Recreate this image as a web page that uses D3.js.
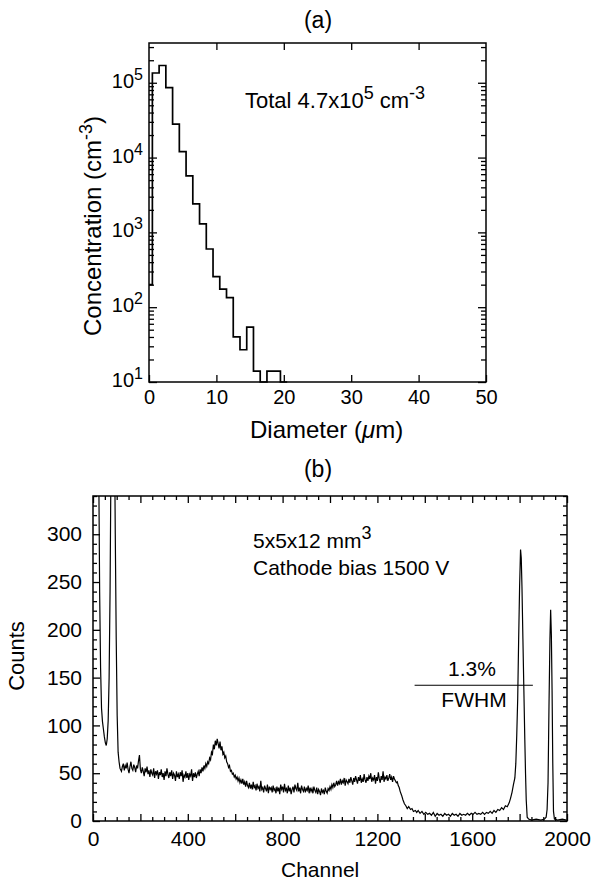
<!DOCTYPE html>
<html>
<head>
<meta charset="utf-8">
<script src="https://cdn.jsdelivr.net/npm/d3@7"></script>
<style>
  body { margin: 0; background: #fff; }
  svg text { font-family: "Liberation Sans", Arial, sans-serif; fill: #000; }
</style>
</head>
<body>
<script>
// (a) size distribution, 1 um bins centred on whole microns
var diameterBins = [0, 1, 2, 3, 4, 5, 6, 7, 8, 9, 10, 11, 12, 13, 14, 15, 16, 17, 18, 19, 20];
var concentration = [200, 135000, 170000, 86000, 28000, 12000, 5700, 2400, 1300, 600, 256, 174, 134, 40, 27, 54, 14, 0, 14, 14, 0];
var diameterTicks = [0, 10, 20, 30, 40, 50];
var decadeTicks = [1e1, 1e2, 1e3, 1e4, 1e5];

// (b) pulse height spectrum
// low channels: noise + first peaks (channel, counts)
var lowEnd = [
  [18, 700], [24, 380], [28, 240], [32, 160], [36, 118], [40, 104], [44, 96], [48, 88],
  [52, 82], [56, 79], [60, 86], [64, 105], [68, 150], [72, 240], [76, 380], [80, 520],
  [86, 560], [90, 430], [94, 300], [98, 190], [102, 110], [106, 72], [110, 62], [114, 55]
];
// compton band, every 4 channels from channel 120
var bandStart = 120;
var bandStep = 4;
var bandCounts = [
  52, 57, 60, 53, 58, 55, 61, 54, 50, 57, 62, 55, 53, 59, 56, 51, 58, 55, 63, 69,
  54, 50, 56, 52, 47, 55, 51, 57, 49, 53, 46, 54, 50, 48, 55, 45, 52, 49, 53, 44,
  51, 48, 54, 46, 50, 43, 52, 47, 55, 49, 45, 51, 47, 53, 44, 50, 48, 42, 52, 46,
  49, 44, 51, 47, 53, 41, 48, 46, 52, 45, 50, 43, 49, 47, 54, 42, 50, 46, 51, 45,
  49, 52, 47, 54, 50, 56, 52, 58, 55, 60, 57, 62, 60, 66, 64, 72, 70, 80, 75, 84,
  79, 86, 81, 76, 83, 74, 78, 70, 72, 66, 68, 62, 60, 56, 58, 52, 53, 49, 50, 46,
  48, 44, 46, 42, 45, 40, 43, 39, 44, 38, 41, 36, 42, 37, 35, 40, 34, 38, 33, 41,
  35, 37, 32, 39, 34, 36, 31, 42, 33, 35, 30, 37, 34, 31, 38, 29, 36, 33, 35, 30,
  37, 32, 34, 29, 36, 31, 35, 28, 38, 33, 36, 30, 39, 32, 34, 29, 37, 31, 35, 28,
  33, 36, 30, 38, 34, 32, 40, 31, 35, 29, 37, 33, 31, 36, 30, 34, 32, 37, 29, 35,
  31, 34, 29, 36, 32, 30, 35, 28, 33, 31, 27, 34, 30, 32, 28, 35, 31, 29, 34, 32,
  36, 33, 38, 35, 40, 36, 38, 42, 37, 41, 39, 44, 38, 42, 40, 45, 37, 43, 41, 39,
  44, 40, 46, 42, 38, 45, 41, 47, 43, 39, 46, 42, 48, 40, 44, 41, 49, 43, 40, 46,
  42, 47, 44, 50, 41, 45, 43, 48, 39, 46, 42, 51, 44, 40, 47, 43, 52, 41, 46, 44,
  48, 42, 45, 49, 43, 46, 41, 47, 44, 42, 40, 41, 37, 35, 31
];
// compton edge, valley and photopeaks (channel, counts)
var highEnd = [
  [1302, 27], [1308, 22], [1314, 18], [1320, 16], [1326, 13], [1332, 15], [1340, 12], [1346, 13],
  [1352, 10], [1360, 11], [1366, 9], [1372, 11], [1380, 8], [1388, 10], [1396, 7], [1404, 9],
  [1412, 7], [1420, 8], [1428, 6], [1436, 9], [1444, 5], [1452, 8], [1460, 6], [1468, 7],
  [1476, 5], [1484, 8], [1492, 6], [1500, 7], [1508, 5], [1516, 8], [1524, 6], [1532, 7],
  [1540, 5], [1548, 8], [1556, 6], [1564, 7], [1572, 6], [1580, 8], [1588, 6], [1596, 8],
  [1604, 7], [1612, 9], [1620, 7], [1628, 8], [1636, 7], [1644, 9], [1652, 7], [1660, 9],
  [1668, 8], [1676, 10], [1684, 8], [1692, 11], [1700, 9], [1708, 12], [1716, 11], [1724, 14],
  [1732, 12], [1740, 16], [1748, 15], [1756, 19], [1762, 24], [1768, 30], [1774, 38], [1780, 45],
  [1784, 60], [1788, 90], [1792, 128], [1796, 190], [1800, 245], [1804, 284], [1807, 275], [1810, 245],
  [1814, 190], [1818, 137], [1822, 85], [1825, 50], [1828, 22], [1832, 4], [1838, 2], [1850, 1],
  [1870, 2], [1890, 1], [1905, 2], [1912, 4], [1916, 12], [1920, 40], [1924, 120], [1928, 190],
  [1931, 221], [1934, 195], [1937, 137], [1940, 60], [1943, 10], [1947, 2], [1960, 1], [1980, 2],
  [1998, 1]
];
var countTicks = [0, 50, 100, 150, 200, 250, 300];
var channelTicks = [0, 400, 800, 1200, 1600, 2000];
var fwhmLevel = 142;
var fwhmSpan = [1357, 1856];

var svg = d3.select('body').append('svg')
  .attr('width', 599)
  .attr('height', 880);

var styleAxis = function(size) {
  return function(g) {
    g.select('.domain').remove();
    g.selectAll('line').attr('stroke', '#000').attr('stroke-width', 1.3);
    g.selectAll('text').attr('font-size', size).attr('font-family', '"Liberation Sans", Arial, sans-serif');
  };
};

// ---------- panel (a) ----------
var ax = d3.scaleLinear().domain([0, 50]).range([149, 486]);
var ay = d3.scaleLog().domain([10, 3.4e5]).range([382, 43]);

var pa = svg.append('g');

var histPts = diameterBins.map(function(c, i) {
  return [Math.max(0, c - 0.5), Math.max(10, concentration[i])];
});
histPts.push([diameterBins[diameterBins.length - 1] + 0.5, Math.max(10, concentration[concentration.length - 1])]);

pa.append('path')
  .datum(histPts)
  .attr('d', d3.line()
    .x(function(d) { return ax(d[0]); })
    .y(function(d) { return ay(d[1]); })
    .curve(d3.curveStepAfter))
  .attr('fill', 'none')
  .attr('stroke', '#000')
  .attr('stroke-width', 1.7);

var minorA = ay.ticks().filter(function(v) { return decadeTicks.indexOf(v) < 0; });

pa.append('g')
  .attr('transform', 'translate(0,' + ay.range()[0] + ')')
  .call(d3.axisBottom(ax).tickValues(diameterTicks).tickSize(-7).tickPadding(8))
  .call(styleAxis(20));
pa.append('g')
  .attr('transform', 'translate(0,' + ay.range()[1] + ')')
  .call(d3.axisTop(ax).tickValues(diameterTicks.slice(1, -1)).tickSize(-7).tickFormat(''))
  .call(styleAxis(20));
[ax.range()[0], ax.range()[1]].forEach(function(xp, k) {
  var mk = k === 0 ? d3.axisLeft : d3.axisRight;
  pa.append('g')
    .attr('transform', 'translate(' + xp + ',0)')
    .call(mk(ay).tickValues(decadeTicks).tickSize(-8).tickFormat(''))
    .call(styleAxis(20));
  pa.append('g')
    .attr('transform', 'translate(' + xp + ',0)')
    .call(mk(ay).tickValues(minorA).tickSize(-5).tickFormat(''))
    .call(styleAxis(20));
});

var decLabel = pa.selectAll('text.dec').data(decadeTicks).enter().append('text')
  .attr('class', 'dec')
  .attr('x', 143)
  .attr('y', function(d) { return ay(d) + 5; })
  .attr('text-anchor', 'end')
  .attr('font-size', 20);
decLabel.append('tspan').text('10');
decLabel.append('tspan')
  .attr('dy', -8)
  .attr('font-size', 16)
  .text(function(d) { return Math.round(Math.log10(d)); });

pa.append('rect')
  .attr('x', ax.range()[0]).attr('y', ay.range()[1])
  .attr('width', ax.range()[1] - ax.range()[0])
  .attr('height', ay.range()[0] - ay.range()[1])
  .attr('fill', 'none').attr('stroke', '#000').attr('stroke-width', 1.5);

pa.append('text').attr('x', 318).attr('y', 28).attr('text-anchor', 'middle').attr('font-size', 23).text('(a)');

var xa = pa.append('text').attr('x', 250).attr('y', 438).attr('font-size', 24);
xa.append('tspan').text('Diameter (');
xa.append('tspan').attr('font-style', 'italic').text('\u03bc');
xa.append('tspan').text('m)');

var ya = pa.append('text')
  .attr('transform', 'translate(101,226) rotate(-90)')
  .attr('text-anchor', 'middle')
  .attr('font-size', 24);
ya.append('tspan').text('Concentration (cm');
ya.append('tspan').attr('dy', -9).attr('font-size', 18).text('-3');
ya.append('tspan').attr('dy', 9).text(')');

var tot = pa.append('text').attr('x', 245).attr('y', 108).attr('font-size', 22);
tot.append('tspan').text('Total 4.7x10');
tot.append('tspan').attr('dy', -9).attr('font-size', 18).text('5');
tot.append('tspan').attr('dy', 9).text(' cm');
tot.append('tspan').attr('dy', -9).attr('font-size', 18).text('-3');

// ---------- panel (b) ----------
var bx = d3.scaleLinear().domain([0, 2000]).range([93, 567]);
var by = d3.scaleLinear().domain([0, 340]).range([821, 496]);

var pb = svg.append('g');

pb.append('clipPath').attr('id', 'clipb')
  .append('rect')
  .attr('x', bx.range()[0]).attr('y', by.range()[1])
  .attr('width', bx.range()[1] - bx.range()[0])
  .attr('height', by.range()[0] - by.range()[1]);

var spectrum = lowEnd
  .concat(bandCounts.map(function(c, i) { return [bandStart + i * bandStep, c]; }))
  .concat(highEnd);

pb.append('path')
  .datum(spectrum)
  .attr('clip-path', 'url(#clipb)')
  .attr('d', d3.line()
    .x(function(d) { return bx(d[0]); })
    .y(function(d) { return by(d[1]); }))
  .attr('fill', 'none')
  .attr('stroke', '#000')
  .attr('stroke-width', 1.2);

var chMajor = d3.range(0, 2001, 200);
var chMinor = d3.range(0, 2001, 50).filter(function(v) { return v % 200 !== 0; });
var ctMinor = d3.range(0, 341, 10).filter(function(v) { return v % 50 !== 0; });
var ctMajor = d3.range(0, 341, 50);

pb.append('g')
  .attr('transform', 'translate(0,' + by.range()[0] + ')')
  .call(d3.axisBottom(bx).tickValues(chMajor).tickSize(-7).tickPadding(10)
    .tickFormat(function(d) { return channelTicks.indexOf(d) >= 0 ? d : ''; }))
  .call(styleAxis(21));
pb.append('g')
  .attr('transform', 'translate(0,' + by.range()[0] + ')')
  .call(d3.axisBottom(bx).tickValues(chMinor).tickSize(-4).tickFormat(''))
  .call(styleAxis(21));
pb.append('g')
  .attr('transform', 'translate(0,' + by.range()[1] + ')')
  .call(d3.axisTop(bx).tickValues(chMajor).tickSize(-7).tickFormat(''))
  .call(styleAxis(21));
pb.append('g')
  .attr('transform', 'translate(0,' + by.range()[1] + ')')
  .call(d3.axisTop(bx).tickValues(chMinor).tickSize(-4).tickFormat(''))
  .call(styleAxis(21));

pb.append('g')
  .attr('transform', 'translate(' + bx.range()[0] + ',0)')
  .call(d3.axisLeft(by).tickValues(ctMajor).tickSize(-7).tickPadding(11)
    .tickFormat(function(d) { return countTicks.indexOf(d) >= 0 ? d : ''; }))
  .call(styleAxis(21));
pb.append('g')
  .attr('transform', 'translate(' + bx.range()[0] + ',0)')
  .call(d3.axisLeft(by).tickValues(ctMinor).tickSize(-4).tickFormat(''))
  .call(styleAxis(21));
pb.append('g')
  .attr('transform', 'translate(' + bx.range()[1] + ',0)')
  .call(d3.axisRight(by).tickValues(ctMajor).tickSize(-7).tickFormat(''))
  .call(styleAxis(21));
pb.append('g')
  .attr('transform', 'translate(' + bx.range()[1] + ',0)')
  .call(d3.axisRight(by).tickValues(ctMinor).tickSize(-4).tickFormat(''))
  .call(styleAxis(21));

pb.append('rect')
  .attr('x', bx.range()[0]).attr('y', by.range()[1])
  .attr('width', bx.range()[1] - bx.range()[0])
  .attr('height', by.range()[0] - by.range()[1])
  .attr('fill', 'none').attr('stroke', '#000').attr('stroke-width', 1.5);

pb.append('line')
  .attr('x1', bx(fwhmSpan[0])).attr('x2', bx(fwhmSpan[1]))
  .attr('y1', by(fwhmLevel)).attr('y2', by(fwhmLevel))
  .attr('stroke', '#000').attr('stroke-width', 1);

pb.append('text').attr('x', 472).attr('y', 676).attr('text-anchor', 'middle').attr('font-size', 21).text('1.3%');
pb.append('text').attr('x', 474).attr('y', 707).attr('text-anchor', 'middle').attr('font-size', 21).text('FWHM');

var dims = pb.append('text').attr('x', 253).attr('y', 548).attr('font-size', 21);
dims.append('tspan').text('5x5x12 mm');
dims.append('tspan').attr('dy', -9).attr('font-size', 18).text('3');
pb.append('text').attr('x', 253).attr('y', 575).attr('font-size', 21).text('Cathode bias 1500 V');

pb.append('text').attr('x', 318).attr('y', 477).attr('text-anchor', 'middle').attr('font-size', 23).text('(b)');
pb.append('text').attr('x', 281).attr('y', 877).attr('font-size', 21).text('Channel');
pb.append('text')
  .attr('transform', 'translate(24,656) rotate(-90)')
  .attr('text-anchor', 'middle')
  .attr('font-size', 22)
  .text('Counts');
</script>
</body>
</html>
